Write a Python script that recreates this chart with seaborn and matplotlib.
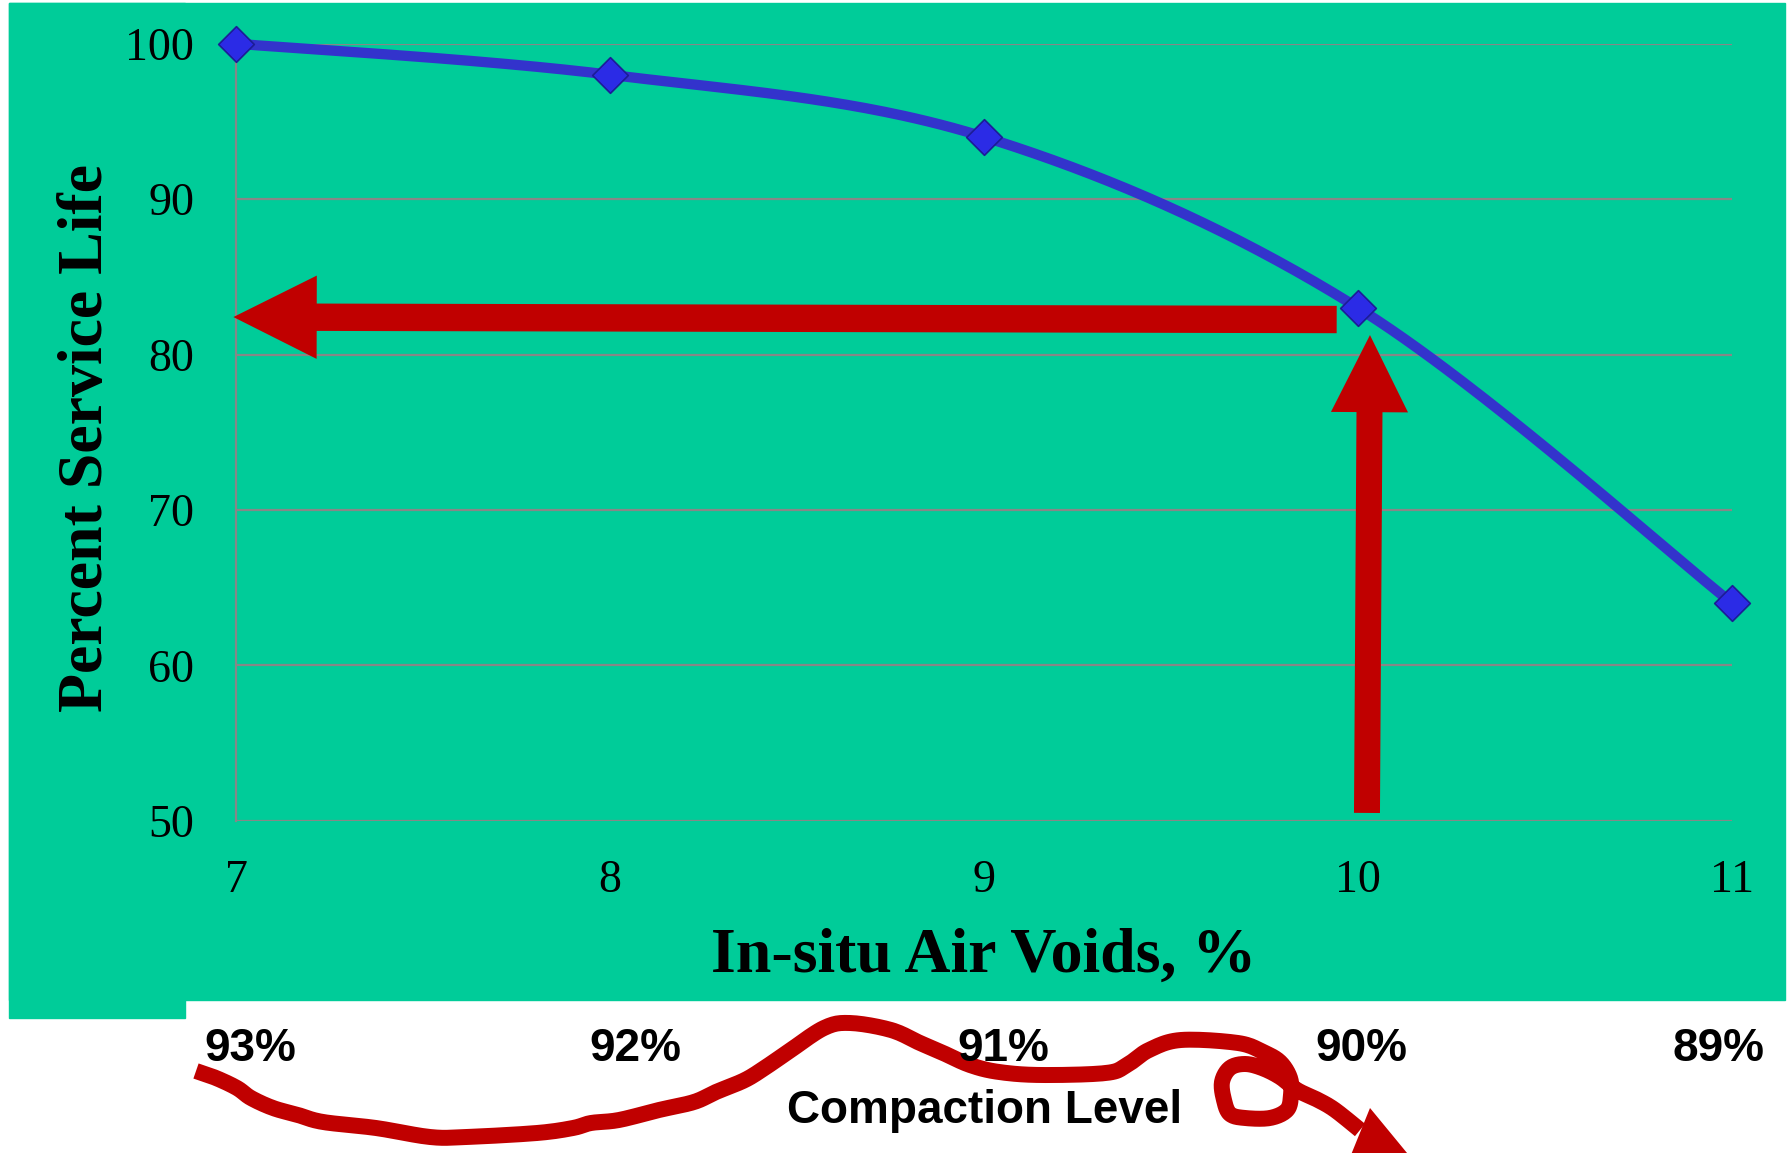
import numpy as np
import matplotlib
matplotlib.use("Agg")
import matplotlib.pyplot as plt
import seaborn as sns
from matplotlib.patches import Rectangle, Polygon
from matplotlib.lines import Line2D

# ---- data -------------------------------------------------------------
air_voids = [7, 8, 9, 10, 11]
service_life = [100, 98, 94, 83, 64]
y_ticks = [50, 60, 70, 80, 90, 100]
compaction_labels = ["93%", "92%", "91%", "90%", "89%"]

# reading guide: air voids of 10 % -> about 82 % service life
guide_voids = [10.024, 10.032]      # vertical arrow (tail, tip)
guide_voids_life = [50.5, 81.25]
guide_life_voids = [9.943, 6.993]   # horizontal arrow (tail, tip)
guide_life = [82.25, 82.41]

# ---- style ------------------------------------------------------------
sns.set_style("white")
plt.rcParams["font.family"] = ["Liberation Serif", "DejaVu Serif"]
plt.rcParams.update({"text.color": "black", "axes.labelcolor": "black",
                     "xtick.color": "black", "ytick.color": "black"})

W, H = 1791, 1153
GREEN = "#00CC99"
RED = "#C00000"
GRID = "#878787"

fig = plt.figure(figsize=(W / 100, H / 100), dpi=100)
fig.patch.set_facecolor("white")

# green panel behind the chart
fig.add_artist(Rectangle((9 / W, 1 - 1000 / H), 1776 / W, 997 / H,
                         transform=fig.transFigure, color=GREEN, zorder=-10))
fig.add_artist(Rectangle((9 / W, 1 - 1017.5 / H), 176 / W, 1014.5 / H,
                         transform=fig.transFigure, color=GREEN, zorder=-10))

ax = fig.add_axes([236 / W, 1 - 820.7 / H, 1496 / W, 777 / H])
ax.set_facecolor("none")
ax.set_xlim(7, 11)
ax.set_ylim(50, 100)


def bezier_smooth(pts, steps=40):
    """Cubic Bezier (Catmull-Rom style) smoothing through a sequence of points."""
    pts = np.asarray(pts, dtype=float)
    n = len(pts)
    segs = []
    for i in range(n - 1):
        p0, p1 = pts[max(i - 1, 0)], pts[i]
        p2, p3 = pts[i + 1], pts[min(i + 2, n - 1)]
        c1 = p1 + (p2 - p0) / 6.0
        c2 = p2 - (p3 - p1) / 6.0
        t = np.linspace(0, 1, steps, endpoint=(i == n - 2))[:, None]
        segs.append((1 - t) ** 3 * p1 + 3 * (1 - t) ** 2 * t * c1
                    + 3 * (1 - t) * t ** 2 * c2 + t ** 3 * p2)
    return np.vstack(segs)


# smooth the series in screen space, then map back to data coordinates
screen_pts = ax.transData.transform(np.column_stack([air_voids, service_life]))
curve = ax.transData.inverted().transform(bezier_smooth(screen_pts, 60))
sns.lineplot(x=curve[:, 0], y=curve[:, 1], sort=False, estimator=None,
             color="#3333CC", linewidth=7.4, ax=ax, clip_on=False, zorder=3)
sns.scatterplot(x=air_voids, y=service_life, marker="D", s=330,
                color="#2B2BE6", edgecolor="#1C1C96", linewidth=1.2,
                ax=ax, clip_on=False, zorder=5)

# axes cosmetics
ax.set_xticks(air_voids)
ax.set_yticks(y_ticks)
ax.set_xticklabels([str(v) for v in air_voids])
ax.tick_params(axis="x", length=0, pad=28, labelsize=33, colors="black")
ax.tick_params(axis="y", length=0, pad=30, labelsize=33, colors="black")
ax.grid(False)
ax.yaxis.grid(True, color=GRID, linewidth=1.6)
for side in ["top", "right", "bottom"]:
    ax.spines[side].set_visible(False)
ax.spines["left"].set_color(GRID)
ax.spines["left"].set_linewidth(1.6)

ax.set_xlabel("In-situ Air Voids, %", fontsize=46, fontweight="bold", color="black")
ax.set_ylabel("Percent Service Life", fontsize=46, fontweight="bold", color="black")
ax.xaxis.set_label_coords(0.5, -0.1375)
ax.yaxis.set_label_coords(-0.0802, 0.492)

# reading arrows
ax.annotate("", xy=(guide_voids[1], guide_voids_life[1]),
            xytext=(guide_voids[0], guide_voids_life[0]),
            arrowprops=dict(arrowstyle="simple,head_length=55.5,head_width=55.5,tail_width=18.7",
                            mutation_scale=1, color=RED, lw=0, shrinkA=0, shrinkB=0),
            annotation_clip=False, zorder=4)
ax.annotate("", xy=(guide_life_voids[1], guide_life[1]),
            xytext=(guide_life_voids[0], guide_life[0]),
            arrowprops=dict(arrowstyle="simple,head_length=60,head_width=60,tail_width=19.7",
                            mutation_scale=1, color=RED, lw=0, shrinkA=0, shrinkB=0),
            annotation_clip=False, zorder=4)

# compaction level scale below the chart
sans = ["Liberation Sans", "DejaVu Sans"]
label_x = [250, 635, 1003, 1361.5, 1719]
for lab, px in zip(compaction_labels, label_x):
    fig.text(px / W, 1 - 1061 / H, lab, ha="center", va="baseline", color="black",
             fontsize=33, fontweight="bold", family=sans, zorder=6)
fig.text(984.5 / W, 1 - 1123.3 / H, "Compaction Level", ha="center", color="black",
         va="baseline", fontsize=33, fontweight="bold", family=sans, zorder=6)

# hand-drawn red stroke with arrow tip
stroke = np.array([
    (196, 1071), (216, 1078), (237, 1088), (251, 1098), (273, 1108),
    (298, 1115), (323, 1122), (376, 1128), (430, 1137), (466, 1137),
    (537, 1133), (573, 1128), (591, 1123), (619, 1120), (659, 1110),
    (694, 1102), (716, 1092), (745, 1080), (766, 1067), (788, 1052),
    (824, 1028), (850, 1023), (891, 1030), (920, 1043), (941, 1052),
    (970, 1065), (999, 1072), (1041, 1075), (1106, 1073), (1127, 1065),
    (1149, 1050), (1181, 1040), (1238, 1043), (1263, 1052), (1280, 1062),
    (1290, 1078), (1291, 1095), (1287, 1110), (1270, 1118), (1245, 1118),
    (1230, 1114), (1224, 1100), (1222, 1082), (1230, 1068), (1245, 1064),
    (1262, 1068), (1280, 1077), (1297, 1090), (1318, 1100), (1335, 1110),
    (1360, 1130),
], dtype=float)
stroke = bezier_smooth(stroke, 12)
fig.add_artist(Line2D(stroke[:, 0] / W, 1 - stroke[:, 1] / H,
                      transform=fig.transFigure, color=RED, linewidth=11.5,
                      solid_joinstyle="round", solid_capstyle="butt", zorder=5))
head = np.array([(1370, 1108), (1421, 1170), (1340, 1182)], dtype=float)
fig.add_artist(Polygon(np.column_stack([head[:, 0] / W, 1 - head[:, 1] / H]),
                       closed=True, transform=fig.transFigure, color=RED, lw=0,
                       zorder=5))

fig.savefig("out.png", dpi=100)
